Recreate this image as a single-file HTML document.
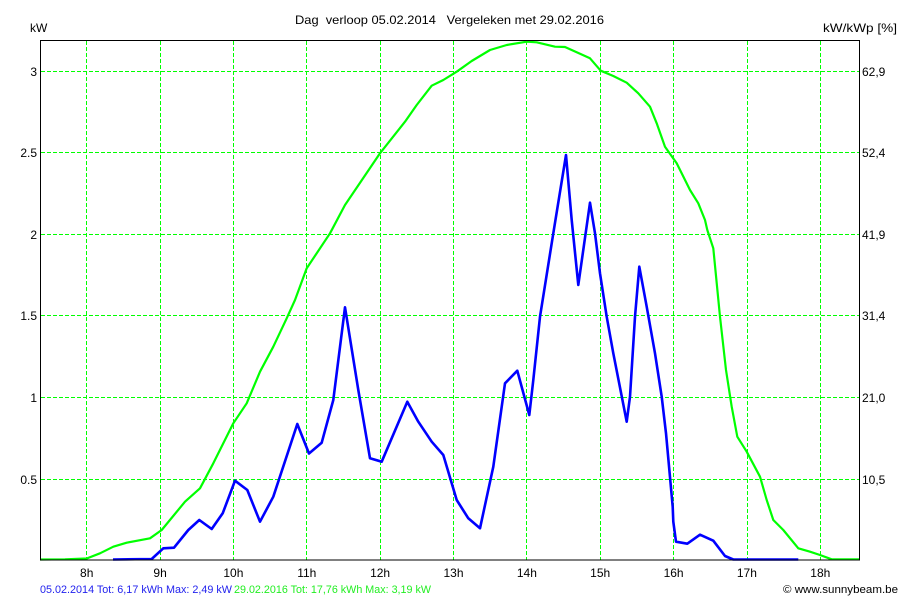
<!DOCTYPE html>
<html>
<head>
<meta charset="utf-8">
<style>
html,body{margin:0;padding:0;background:#fff;}
svg{display:block;}
text{font-family:"Liberation Sans",Arial,sans-serif;}
</style>
</head>
<body>
<svg width="900" height="600" viewBox="0 0 900 600" xmlns="http://www.w3.org/2000/svg">
<rect x="0" y="0" width="900" height="600" fill="#fff"/>
<!-- grid -->
<g stroke="#00ff00" stroke-width="1" stroke-dasharray="4,2" fill="none" shape-rendering="crispEdges">
<line x1="86.5" y1="41" x2="86.5" y2="560"/>
<line x1="160.5" y1="41" x2="160.5" y2="560"/>
<line x1="233.5" y1="41" x2="233.5" y2="560"/>
<line x1="306.5" y1="41" x2="306.5" y2="560"/>
<line x1="380.5" y1="41" x2="380.5" y2="560"/>
<line x1="453.5" y1="41" x2="453.5" y2="560"/>
<line x1="526.5" y1="41" x2="526.5" y2="560"/>
<line x1="600.5" y1="41" x2="600.5" y2="560"/>
<line x1="673.5" y1="41" x2="673.5" y2="560"/>
<line x1="747.5" y1="41" x2="747.5" y2="560"/>
<line x1="820.5" y1="41" x2="820.5" y2="560"/>
<line x1="41" y1="71.5" x2="859" y2="71.5"/>
<line x1="41" y1="152.5" x2="859" y2="152.5"/>
<line x1="41" y1="234.5" x2="859" y2="234.5"/>
<line x1="41" y1="315.5" x2="859" y2="315.5"/>
<line x1="41" y1="397.5" x2="859" y2="397.5"/>
<line x1="41" y1="479.5" x2="859" y2="479.5"/>
</g>
<!-- green series -->
<polyline fill="none" stroke="#00ff00" stroke-width="2.2" stroke-linejoin="round" points="40,559.5 65,559.3 86.7,558.5 100,553.3 113.3,546.7 126.7,542.7 150,538.3 161.7,530 185,501.7 200,488.3 213.3,463.3 233.3,423.3 246.7,403.3 260,371.7 273.3,346.7 286.7,318.3 295,300 306.7,268.3 330,233.3 345,205 380,153.3 405,121.7 416.7,105 431.7,85.7 443.3,80 456.7,71.7 471.7,61 490,50 506.7,45 526.7,41.7 536.7,42.3 555,46.7 565,47 576.7,52.3 590,58.3 600.7,70.7 613.3,76 626.7,82.7 638.3,93.3 650,106.7 656.7,123.3 665,146.7 676.7,163.3 690,190 698.3,203.3 705,220 707.3,230 713.3,248.3 720,316.7 726,370 731.7,406.7 737.3,436.7 746.7,451.7 760,476.7 766.7,500 773.3,520 783.3,530 798.3,548.3 810,551.7 820,555 831.7,559.3 860,559.3"/>
<!-- blue series -->
<polyline fill="none" stroke="#0000ff" stroke-width="2.6" stroke-linejoin="round" points="113,559.5 151.7,559 163.3,548.3 174,547.7 188.3,530 199.3,520 211.7,529 222.7,513.3 235,480.7 247.3,490 260,521.7 273.3,496.7 297.3,424 309,453.5 321.7,442.7 333.3,400 345,307.3 358.3,390 370,458.3 381.7,461.7 407.3,401.7 418.3,421.7 431.7,441.7 443.3,455 456.7,500 468.3,518.3 480,528.3 493.3,466.7 505,383.3 517.3,370.7 529.3,415 533.3,380 540,316.7 553.3,233.3 566,155 571.7,220 578.3,285 590,202.7 595,233.3 600,273.3 606.7,316.7 613.3,353.3 626.7,421.7 630,396.7 635,316.7 639.3,266.7 646.7,306.7 655,353.3 661.7,396.7 666,433.3 672.7,506.7 673.3,521.7 676,541.7 687.3,543.7 700,534.7 713.3,540.7 725,556 733.3,559.5 798.3,559.5"/>
<!-- axes box -->
<rect x="40.5" y="40.5" width="819" height="519.5" fill="none" stroke="#000" stroke-width="1" shape-rendering="crispEdges"/>
<!-- title -->
<text x="295" y="24" font-size="12" fill="#000" textLength="309" lengthAdjust="spacingAndGlyphs" xml:space="preserve">Dag  verloop 05.02.2014   Vergeleken met 29.02.2016</text>
<text x="30" y="32" font-size="12" fill="#000">kW</text>
<text x="823" y="32" font-size="12" fill="#000" textLength="74" lengthAdjust="spacingAndGlyphs">kW/kWp [%]</text>
<!-- left labels -->
<g font-size="12" fill="#000" text-anchor="end">
<text x="37" y="76">3</text>
<text x="37" y="157">2.5</text>
<text x="37" y="239">2</text>
<text x="37" y="320">1.5</text>
<text x="37" y="402">1</text>
<text x="37" y="484">0.5</text>
</g>
<!-- right labels -->
<g font-size="12" fill="#000">
<text x="862" y="76">62,9</text>
<text x="862" y="157">52,4</text>
<text x="862" y="239">41,9</text>
<text x="862" y="320">31,4</text>
<text x="862" y="402">21,0</text>
<text x="862" y="484">10,5</text>
</g>
<!-- x labels -->
<g font-size="12" fill="#000" text-anchor="middle">
<text x="86.7" y="577">8h</text>
<text x="160.1" y="577">9h</text>
<text x="233.4" y="577">10h</text>
<text x="306.8" y="577">11h</text>
<text x="380.1" y="577">12h</text>
<text x="453.5" y="577">13h</text>
<text x="526.9" y="577">14h</text>
<text x="600.2" y="577">15h</text>
<text x="673.6" y="577">16h</text>
<text x="746.9" y="577">17h</text>
<text x="820.3" y="577">18h</text>
</g>
<!-- legend -->
<text x="40" y="593" font-size="11" fill="#2222ee" textLength="192" lengthAdjust="spacingAndGlyphs">05.02.2014 Tot: 6,17 kWh Max: 2,49 kW</text>
<text x="234" y="593" font-size="11" fill="#22ee22" textLength="197" lengthAdjust="spacingAndGlyphs">29.02.2016 Tot: 17,76 kWh Max: 3,19 kW</text>
<text x="783" y="593" font-size="11" fill="#000" textLength="115" lengthAdjust="spacingAndGlyphs">© www.sunnybeam.be</text>
</svg>
</body>
</html>
